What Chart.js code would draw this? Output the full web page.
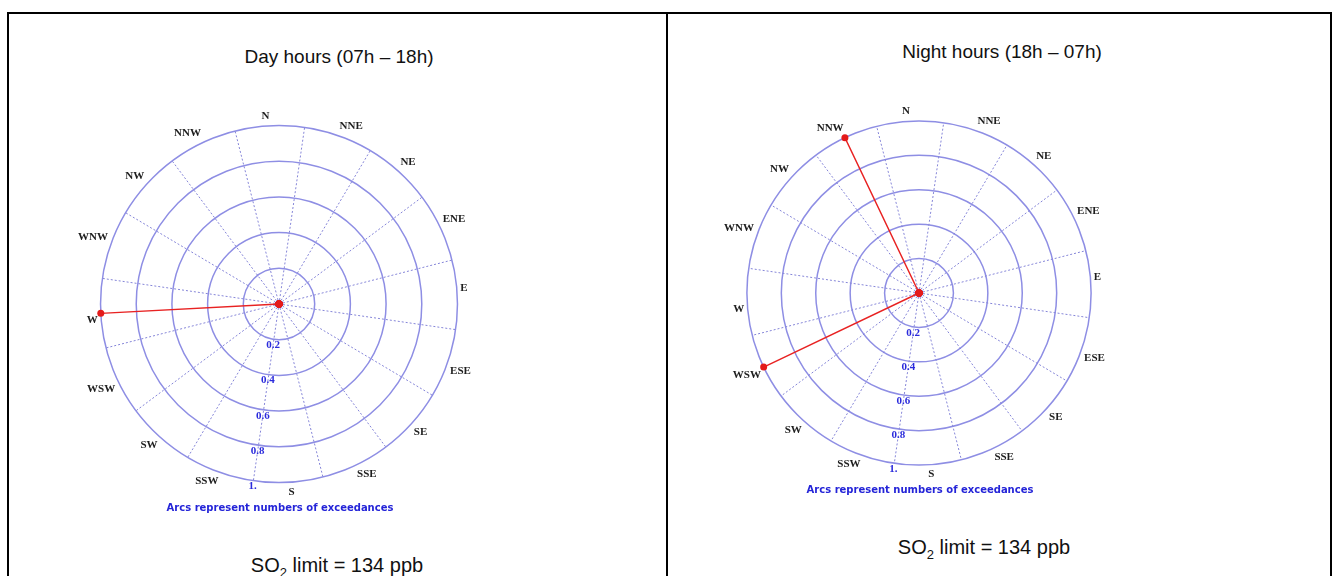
<!DOCTYPE html>
<html>
<head>
<meta charset="utf-8">
<script src="https://cdn.jsdelivr.net/npm/chart.js@4.4.1/dist/chart.umd.min.js"></script>
<style>
  body { margin: 0; background: #fff; width: 1336px; height: 576px; overflow: hidden; position: relative; font-family: 'Liberation Sans', Arial, sans-serif; }
  .frame { position: absolute; left: 7px; top: 12px; width: 1321px; height: 620px; border: 2px solid #000; }
  .divider { position: absolute; left: 666px; top: 12px; width: 2px; height: 600px; background: #000; }
  .title { position: absolute; font-size: 19px; color: #111; text-align: center; width: 400px; }
  .limit { position: absolute; font-size: 20px; color: #111; text-align: center; width: 400px; }
  .limit sub { font-size: 13px; }
  .caption { position: absolute; font: bold 10px 'DejaVu Sans', Verdana, sans-serif; color: #2424d8; text-align: center; width: 300px; }
  canvas { position: absolute; }
</style>
</head>
<body>
<div class="frame"></div>
<div class="divider"></div>

<div class="title" style="left:139px; top:46px;">Day hours (07h &ndash; 18h)</div>
<div class="title" style="left:802px; top:41px;">Night hours (18h &ndash; 07h)</div>

<canvas id="dayChart" width="402" height="402" style="left:74px; top:104px;"></canvas>
<canvas id="nightChart" width="390" height="390" style="left:720px; top:98px;"></canvas>

<div class="caption" style="left:130px; top:502px;">Arcs represent numbers of exceedances</div>
<div class="caption" style="left:770px; top:484px;">Arcs represent numbers of exceedances</div>

<div class="limit" style="left:137px; top:554px;">SO<sub>2</sub> limit = 134 ppb</div>
<div class="limit" style="left:784px; top:536px;">SO<sub>2</sub> limit = 134 ppb</div>

<script>
const directions = ['N', 'NNE', 'NE', 'ENE', 'E', 'ESE', 'SE', 'SSE', 'S', 'SSW', 'SW', 'WSW', 'W', 'WNW', 'NW', 'NNW'];
const dayCounts   = [0, 0, 0, 0, 0, 0, 0, 0, 0, 0, 0, 0, 1, 0, 0, 0];
const nightCounts = [0, 0, 0, 0, 0, 0, 0, 0, 0, 0, 0, 1, 0, 0, 0, 1];
const tickValues = [0.2, 0.4, 0.6, 0.8, 1];
const tickLabels = ['0.2', '0.4', '0.6', '0.8', '1.'];

const ringColor = '#8e8ee4';
const spokeColor = '#8585d8';
const blue = '#2b2bdc';

// every direction gets a blank slot after it, so the dotted spokes sit between the labels
const labels = directions.flatMap(d => [d, '']);
const spread = values => values.flatMap(v => [v, null]);

// tick labels run down the spoke just left of S, Mathematica style
const tickLabelPlugin = {
  id: 'tickLabels',
  afterDraw(chart) {
    const scale = chart.scales.r;
    const ctx = chart.ctx;
    ctx.save();
    ctx.font = 'bold 11px "Liberation Serif", serif';
    ctx.fillStyle = blue;
    ctx.textAlign = 'center';
    ctx.textBaseline = 'middle';
    tickValues.forEach((v, i) => {
      const pos = scale.getPointPosition(17, scale.getDistanceFromCenterForValue(v) + 6);
      ctx.fillText(tickLabels[i], pos.x, pos.y);
    });
    ctx.restore();
  }
};

function makeRose(id, counts) {
  new Chart(document.getElementById(id), {
    type: 'radar',
    data: {
      labels,
      datasets: [{
        data: spread(counts),
        borderColor: '#e82222',
        borderWidth: 1.4,
        backgroundColor: '#e82222',
        fill: false,
        spanGaps: true,
        pointRadius: ctx => ctx.raw === null ? 0 : 3.5,
        pointBorderWidth: 0,
        pointBackgroundColor: '#e41a1a'
      }]
    },
    options: {
      responsive: false,
      animation: false,
      layout: { padding: 0 },
      plugins: { legend: { display: false }, tooltip: { enabled: false } },
      scales: {
        r: {
          min: 0,
          max: 1,
          startAngle: -3,
          ticks: { display: false, stepSize: 0.2 },
          grid: { circular: true, color: ringColor, lineWidth: 1.5 },
          angleLines: {
            color: spokeColor,
            lineWidth: ctx => ctx.index % 2 ? 1 : 0,
            borderDash: [2, 2]
          },
          pointLabels: {
            padding: 3,
            color: '#1e1e1e',
            font: { family: '"Liberation Serif", serif', size: 11, weight: 'bold' }
          }
        }
      }
    },
    plugins: [tickLabelPlugin]
  });
}

makeRose('dayChart', dayCounts);
makeRose('nightChart', nightCounts);
</script>
</body>
</html>
